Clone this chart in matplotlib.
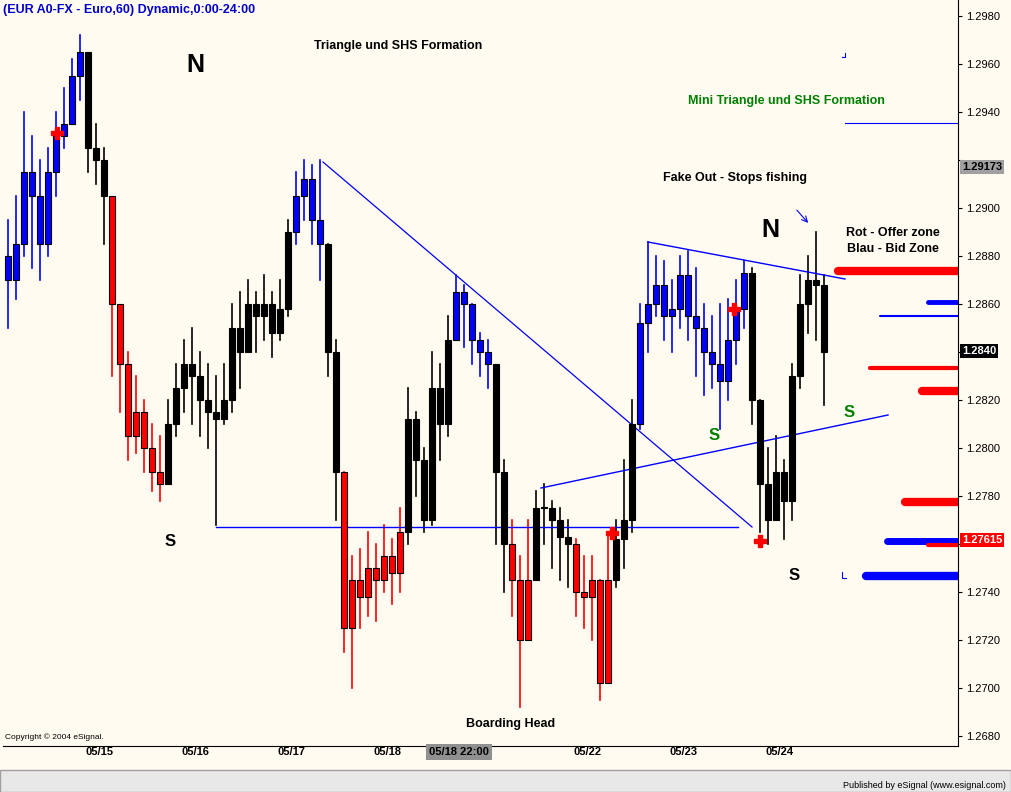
import matplotlib
matplotlib.use("Agg")
import matplotlib.pyplot as plt
from matplotlib.patches import Rectangle

plt.rcParams['font.family'] = ['Liberation Sans', 'DejaVu Sans']

# 2-hour style OHLC approximation
closes = [1.2870, 1.2885, 1.2915, 1.2905, 1.2885, 1.2915, 1.2930, 1.2935, 1.2955, 1.2965,
          1.2925, 1.2920, 1.2905, 1.2860, 1.2835, 1.2805, 1.2815, 1.2800, 1.2790, 1.2785,
          1.2810, 1.2825, 1.2835, 1.2830, 1.2820, 1.2815, 1.2812, 1.2820, 1.2850, 1.2840,
          1.2860, 1.2855, 1.2860, 1.2848, 1.2858, 1.2890, 1.2905, 1.2912, 1.2895, 1.2885,
          1.2840, 1.2790, 1.2725, 1.2745, 1.2738, 1.2750, 1.2745, 1.2755, 1.2748, 1.2765,
          1.2812, 1.2795, 1.2770, 1.2825, 1.2810, 1.2845, 1.2865, 1.2860, 1.2845, 1.2840,
          1.2835, 1.2790, 1.2760, 1.2745, 1.2720, 1.2745, 1.2775, 1.2775, 1.2770, 1.2763,
          1.2760, 1.2740, 1.2738, 1.2745, 1.2702, 1.2745, 1.2762, 1.2770, 1.2810, 1.2852,
          1.2860, 1.2868, 1.2855, 1.2858, 1.2872, 1.2855, 1.2850, 1.2840, 1.2835, 1.2828,
          1.2845, 1.2858, 1.2873, 1.2820, 1.2785, 1.2770, 1.2790, 1.2778, 1.2830, 1.2860,
          1.2870, 1.2868, 1.2840]
highs = [1.2895, 1.2905, 1.2940, 1.2930, 1.2920, 1.2925, 1.2940, 1.2950, 1.2962, 1.2972,
         1.2940, 1.2935, 1.2925, 1.2880, 1.2855, 1.2840, 1.2830, 1.2820, 1.2810, 1.2805,
         1.2820, 1.2835, 1.2845, 1.2850, 1.2840, 1.2835, 1.2830, 1.2835, 1.2860, 1.2865,
         1.2870, 1.2865, 1.2872, 1.2865, 1.2870, 1.2895, 1.2915, 1.2920, 1.2918, 1.2920,
         1.2885, 1.2845, 1.2790, 1.2755, 1.2758, 1.2765, 1.2760, 1.2768, 1.2762, 1.2775,
         1.2825, 1.2815, 1.2800, 1.2840, 1.2835, 1.2855, 1.2872, 1.2868, 1.2860, 1.2848,
         1.2845, 1.2830, 1.2795, 1.2770, 1.2755, 1.2770, 1.2782, 1.2785, 1.2778, 1.2775,
         1.2770, 1.2762, 1.2755, 1.2755, 1.2745, 1.2765, 1.2770, 1.2795, 1.2820, 1.2860,
         1.2886, 1.2880, 1.2878, 1.2870, 1.2880, 1.2882, 1.2875, 1.2860, 1.2855, 1.2860,
         1.2862, 1.2870, 1.2878, 1.2875, 1.2820, 1.2800, 1.2805, 1.2795, 1.2835, 1.2872,
         1.2880, 1.2890, 1.2872]
lows = [1.2850, 1.2862, 1.2880, 1.2875, 1.2870, 1.2880, 1.2905, 1.2925, 1.2940, 1.2945,
        1.2915, 1.2910, 1.2885, 1.2830, 1.2815, 1.2795, 1.2798, 1.2790, 1.2782, 1.2778,
        1.2785, 1.2805, 1.2815, 1.2810, 1.2805, 1.2800, 1.2768, 1.2810, 1.2815, 1.2825,
        1.2845, 1.2840, 1.2845, 1.2838, 1.2845, 1.2855, 1.2885, 1.2895, 1.2885, 1.2870,
        1.2830, 1.2770, 1.2715, 1.2700, 1.2725, 1.2730, 1.2728, 1.2740, 1.2735, 1.2740,
        1.2760, 1.2780, 1.2765, 1.2768, 1.2795, 1.2805, 1.2845, 1.2842, 1.2835, 1.2830,
        1.2825, 1.2760, 1.2740, 1.2730, 1.2692, 1.2720, 1.2745, 1.2760, 1.2750, 1.2745,
        1.2742, 1.2730, 1.2725, 1.2720, 1.2695, 1.2735, 1.2742, 1.2750, 1.2765, 1.2808,
        1.2840, 1.2855, 1.2845, 1.2840, 1.2850, 1.2845, 1.2830, 1.2822, 1.2825, 1.2808,
        1.2820, 1.2835, 1.2850, 1.2810, 1.2765, 1.2760, 1.2770, 1.2762, 1.2770, 1.2825,
        1.2848, 1.2845, 1.2818]
first_open = 1.2880

# color segments (start bar index, color)
segments = [(0, 'blue'), (10, 'black'), (13, 'red'), (20, 'black'), (36, 'blue'),
            (40, 'black'), (42, 'red'), (50, 'black'), (56, 'blue'), (61, 'black'),
            (63, 'red'), (66, 'black'), (71, 'red'), (76, 'black'), (79, 'blue'),
            (93, 'black')]

date_labels = ['05/15', '05/16', '05/17', '05/18', '05/18 22:00', '05/22', '05/23', '05/24']
date_px = [99, 195, 291, 387, 459, 588, 684, 780]
price_ticks = [1.2680, 1.2700, 1.2720, 1.2740, 1.2760, 1.2780, 1.2800, 1.2820, 1.2840,
               1.2860, 1.2880, 1.2900, 1.2920, 1.2940, 1.2960, 1.2980]
# tick labels covered by the highlighted price boxes
covered_ticks = [1.2760, 1.2840, 1.2920]

BG = '#fffbf0'


def px(x):
    return (x - 8) / 8.0


def py(y):
    return 1.2980 - (y - 16) / 24000.0


fig = plt.figure(figsize=(10.11, 7.92), dpi=100, facecolor=BG)
ax = fig.add_axes([3 / 1011, 46 / 792, 955 / 1011, 746 / 792])
ax.set_facecolor(BG)
ax.set_xlim(px(3), px(958))
ax.set_ylim(py(746), py(0))

def bar_color(i):
    c = segments[0][1]
    for s, col in segments:
        if i >= s:
            c = col
    return c

opens = [first_open] + closes[:-1]
for i in range(len(closes)):
    c = bar_color(i)
    o, cl = opens[i], closes[i]
    ax.plot([i, i], [lows[i], highs[i]], color=c, lw=1.2, zorder=2)
    lo, hi = min(o, cl), max(o, cl)
    if hi - lo < 0.00006:
        hi = lo + 0.00006
    ax.add_patch(Rectangle((i - 0.35, lo), 0.7, hi - lo, facecolor=c,
                           edgecolor='black', lw=0.8, zorder=3))

# drawn trend lines
lc = '#0000ff'
ax.plot([px(323), px(752)], [py(162), py(527)], color=lc, lw=0.9)
ax.plot([px(216), px(738)], [py(527), py(527)], color=lc, lw=1.0)
ax.plot([px(541), px(888)], [py(488), py(415)], color=lc, lw=1.0)
ax.plot([px(648), px(845)], [py(242), py(279)], color=lc, lw=1.0)
ax.plot([px(845), px(958)], [py(123), py(123)], color=lc, lw=0.8)
ax.plot([px(842), px(845), px(845)], [py(57), py(57), py(53)], color=lc, lw=0.8)
ax.plot([px(842), px(842), px(846)], [py(572), py(578), py(578)], color=lc, lw=0.8)
ax.annotate('', xy=(px(810), py(225)), xytext=(px(795), py(208)),
            arrowprops=dict(arrowstyle='->', color=lc, lw=0.8))

# bid / offer zones
zones = [(838, 271, 'red', 6), (928, 302, 'blue', 3.5), (880, 316, 'blue', 1.5),
         (870, 368, 'red', 3), (922, 391, 'red', 6), (905, 502, 'red', 6),
         (887, 541, 'blue', 5), (928, 545, 'red', 3), (866, 576, 'blue', 6)]
for x0, y0, c, w in zones:
    ax.plot([px(x0), px(958)], [py(y0), py(y0)], color=c, lw=w,
            solid_capstyle='round', zorder=4)

for x0, y0 in [(57, 133), (612, 533), (734, 309), (760, 541)]:
    ax.plot(px(x0), py(y0), marker='P', color='red', ms=8, zorder=5)

# texts
def t(x, y, s, size=9, color='black', weight='bold', ha='center'):
    ax.text(px(x), py(y), s, fontsize=size, color=color, weight=weight, ha=ha, va='center')

t(398, 46, 'Triangle und SHS Formation')
t(195, 65, 'N', size=18)
t(770, 230, 'N', size=18)
t(170, 542, 'S', size=12)
t(794, 576, 'S', size=12)
t(714, 436, 'S', size=12, color='green')
t(849, 413, 'S', size=12, color='green')
t(786, 101, 'Mini Triangle und SHS Formation', color='green')
t(735, 178, 'Fake Out - Stops fishing')
t(893, 233, 'Rot - Offer zone')
t(893, 249, 'Blau - Bid Zone')
t(511, 724, 'Boarding Head')
t(5, 737, 'Copyright \u00a9 2004 eSignal.', size=6, weight='normal', ha='left')

ax.set_xticks([])
ax.yaxis.tick_right()
ax.set_yticks(price_ticks)
ax.set_yticklabels(['' if p in covered_ticks else '%.4f' % p for p in price_ticks], fontsize=8)
ax.tick_params(axis='y', length=3, pad=3)
for s in ['top', 'left']:
    ax.spines[s].set_visible(False)
ax.spines['right'].set_color('black')
ax.spines['bottom'].set_color('black')

# date labels below the axis
for lab, x0 in zip(date_labels, date_px):
    if ':' in lab:
        ax.text(px(x0), py(752), lab, fontsize=8, weight='bold', ha='center', va='center',
                bbox=dict(boxstyle='square,pad=0.25', fc='#909090', ec='none'), clip_on=False)
    else:
        ax.text(px(x0), py(752), lab, fontsize=8, weight='bold', ha='center', va='center',
                clip_on=False)

# highlighted price labels
for y0, s, fc, tc in [(167, '1.29173', '#a0a0a0', 'black'), (351, '1.2840', 'black', 'white'),
                      (540, '1.27615', 'red', 'white')]:
    ax.text(px(962), py(y0), s, fontsize=8, weight='bold', color=tc, ha='left', va='center',
            bbox=dict(boxstyle='square,pad=0.2', fc=fc, ec='none'), clip_on=False)

fig.text(3 / 1011, 1 - 10 / 792, '(EUR A0-FX - Euro,60) Dynamic,0:00-24:00',
         color='#0000cc', fontsize=9, weight='bold', va='center')
fig.patches.append(Rectangle((0, 0), 1, 22 / 792, transform=fig.transFigure,
                             fc='#e8e8e8', ec='#a0a0a0'))
fig.text(1 - 5 / 1011, 7 / 792, 'Published by eSignal (www.esignal.com)', fontsize=6.5,
         ha='right', va='center')

fig.savefig('out.png', dpi=100, facecolor=BG)
